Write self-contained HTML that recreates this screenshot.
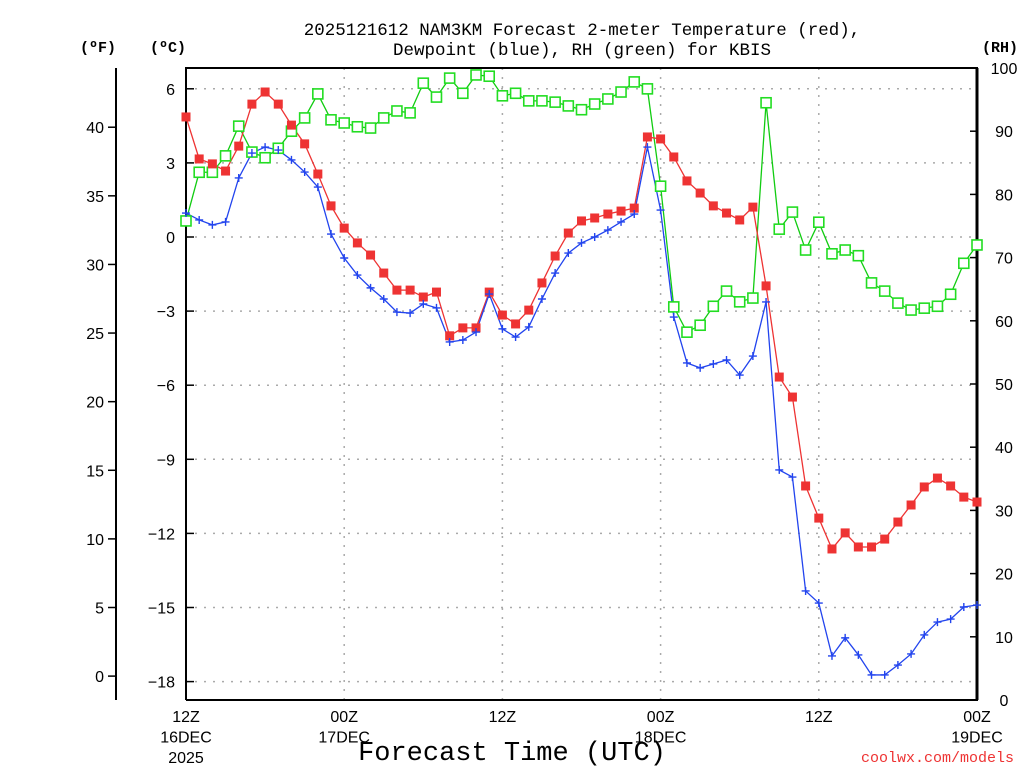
<!DOCTYPE html>
<html><head><meta charset="utf-8"><style>
body{margin:0;background:#fff;}
svg{display:block;font-family:"Liberation Mono","DejaVu Sans Mono",monospace;}
.tk{font-family:"Liberation Sans",sans-serif;}
</style></head><body>
<svg id="chart" width="1024" height="768" viewBox="0 0 1024 768">
<text x="582" y="35" font-size="17.5" text-anchor="middle">2025121612 NAM3KM Forecast 2-meter Temperature (red),</text>
<text x="582" y="55" font-size="17.5" text-anchor="middle">Dewpoint (blue), RH (green) for KBIS</text>
<text x="98" y="52" font-size="15" font-weight="bold" text-anchor="middle">(ºF)</text>
<text x="168" y="52" font-size="15" font-weight="bold" text-anchor="middle">(ºC)</text>
<text x="1000" y="52" font-size="15" font-weight="bold" text-anchor="middle">(RH)</text>
<g id="grid"></g>
<g id="axes" class="tk"></g>
<g id="series"></g>
<text x="512" y="760" font-size="27" text-anchor="middle">Forecast Time (UTC)</text>
<text x="1014" y="762" font-size="15" fill="#e33" text-anchor="end">coolwx.com/models</text>
</svg>
<script>
const tempC=[4.86,3.16,2.96,2.67,3.68,5.38,5.87,5.38,4.53,3.77,2.55,1.26,0.36,-0.24,-0.73,-1.46,-2.15,-2.15,-2.43,-2.23,-4.0,-3.68,-3.68,-2.23,-3.16,-3.52,-2.96,-1.86,-0.77,0.16,0.65,0.77,0.93,1.05,1.17,4.05,3.97,3.24,2.27,1.78,1.26,0.97,0.69,1.21,-1.98,-5.67,-6.48,-10.08,-11.38,-12.63,-11.98,-12.55,-12.55,-12.23,-11.54,-10.85,-10.12,-9.76,-10.08,-10.53,-10.73];
const dewC=[0.97,0.69,0.49,0.61,2.39,3.40,3.64,3.52,3.12,2.63,2.02,0.12,-0.85,-1.54,-2.06,-2.51,-3.04,-3.08,-2.71,-2.87,-4.25,-4.17,-3.85,-2.31,-3.72,-4.05,-3.64,-2.51,-1.46,-0.65,-0.24,0,0.28,0.61,0.93,3.64,1.09,-3.24,-5.10,-5.30,-5.14,-4.98,-5.59,-4.82,-2.63,-9.43,-9.72,-14.33,-14.82,-16.96,-16.23,-16.92,-17.73,-17.73,-17.33,-16.88,-16.11,-15.59,-15.47,-14.98,-14.90];
const rh=[75.8,83.5,83.5,86.1,90.8,86.7,85.8,87.3,90.0,92.1,95.9,91.8,91.3,90.7,90.5,92.1,93.2,92.9,97.6,95.4,98.4,96.0,98.9,98.7,95.6,96.0,94.8,94.8,94.6,94.0,93.4,94.3,95.1,96.2,97.8,96.7,81.3,62.2,58.2,59.3,62.3,64.7,63.0,63.6,94.5,74.5,77.2,71.2,75.6,70.6,71.2,70.3,66.0,64.7,62.8,61.7,62.0,62.3,64.2,69.1,72.0];
const cTicks=[6,3,0,-3,-6,-9,-12,-15,-18];
const cTickLabels=["6","3","0","\u22123","\u22126","\u22129","\u221212","\u221215","\u221218"];
const fTicks=[0,5,10,15,20,25,30,35,40];
const rhTicks=[0,10,20,30,40,50,60,70,80,90,100];
const xTickHours=[0,12,24,36,48,60];
const xTickLabels=[["12Z","16DEC","2025"],["00Z","17DEC"],["12Z"],["00Z","18DEC"],["12Z"],["00Z","19DEC"]];

const X0=186,X1=977,YT=68,YB=700;
const xs=h=>X0+(X1-X0)*h/60;
const yc=c=>237-24.7*c;
const yf=f=>yc((f-32)*5/9);
const yr=r=>YB-(YB-YT)*r/100;
const NS="http://www.w3.org/2000/svg";
function mk(tag,parent,attrs){const e=document.createElementNS(NS,tag);for(const k in attrs)e.setAttribute(k,attrs[k]);parent.appendChild(e);return e;}
const grid=document.getElementById('grid'),axes=document.getElementById('axes'),series=document.getElementById('series');

cTicks.forEach((c,i)=>{
 const l=mk('line',grid,{x1:X0,x2:X1,y1:yc(c),y2:yc(c),stroke:'#aaa','stroke-width':1.5,'stroke-dasharray':'2,7'});
 
 
 const t=mk('line',axes,{x1:X0,x2:X0+8,y1:yc(c),y2:yc(c),stroke:'#000','stroke-width':1.5});
 
 
 const tx=mk('text',axes,{x:175,y:yc(c)+6,'font-size':16,'text-anchor':'end'});
 tx.textContent=cTickLabels[i];
 
 
});
xTickHours.forEach((h,i)=>{
 if(h>0&&h<60){const l=mk('line',grid,{x1:xs(h),x2:xs(h),y1:YT,y2:YB,stroke:'#aaa','stroke-width':1.5,'stroke-dasharray':'2,7'});
 
 }
 xTickLabels[i].forEach((s,j)=>{const t=mk('text',axes,{x:xs(h),y:722+j*20.5,'font-size':16,'text-anchor':'middle'});t.textContent=s;
 
 });
});
fTicks.forEach(f=>{
 const t=mk('line',axes,{x1:108,x2:116,y1:yf(f),y2:yf(f),stroke:'#000','stroke-width':1.5});
 
 
 const tx=mk('text',axes,{x:104,y:yf(f)+6,'font-size':16,'text-anchor':'end'});tx.textContent=f;
 
 
});
rhTicks.forEach(r=>{
 const t=mk('line',axes,{x1:X1-7,x2:X1,y1:yr(r),y2:yr(r),stroke:'#000','stroke-width':1.5});
 
 
 const tx=mk('text',axes,{x:1004,y:yr(r)+6,'font-size':16,'text-anchor':'middle'});tx.textContent=r;
 
 
});
let a=mk('line',axes,{x1:116,x2:116,y1:YT,y2:YB,stroke:'#000','stroke-width':2});


a=mk('path',axes,{d:`M${X0} ${YB}V${YT}H${X1}V${YB}H${X0}`,fill:'none',stroke:'#000','stroke-width':2});


a=mk('line',axes,{x1:X1,x2:X1,y1:YT,y2:YB,stroke:'#000','stroke-width':3});



function line(arr,yfn,col,name){const p=mk('polyline',series,{points:arr.map((v,i)=>xs(i)+','+yfn(v)).join(' '),fill:'none',stroke:col,'stroke-width':1.3});
 
 }
line(rh,yr,'#1c1','rh-line');
line(tempC,yc,'#e33','temperature-line');
line(dewC,yc,'#2244ee','dewpoint-line');
rh.forEach((v,i)=>{const r=mk('rect',series,{x:xs(i)-5,y:yr(v)-5,width:10,height:10,fill:'#fff',stroke:'#2d2','stroke-width':1.6});
 
 });
tempC.forEach((v,i)=>{const r=mk('rect',series,{x:xs(i)-4.5,y:yc(v)-4.5,width:9,height:9,fill:'#e33'});
 
 });
dewC.forEach((v,i)=>{const x=xs(i),y=yc(v);const p=mk('path',series,{d:`M${x-4} ${y}H${x+4}M${x} ${y-4}V${y+4}`,stroke:'#2244ee','stroke-width':1.4});
 
 });
</script>
</body></html>
